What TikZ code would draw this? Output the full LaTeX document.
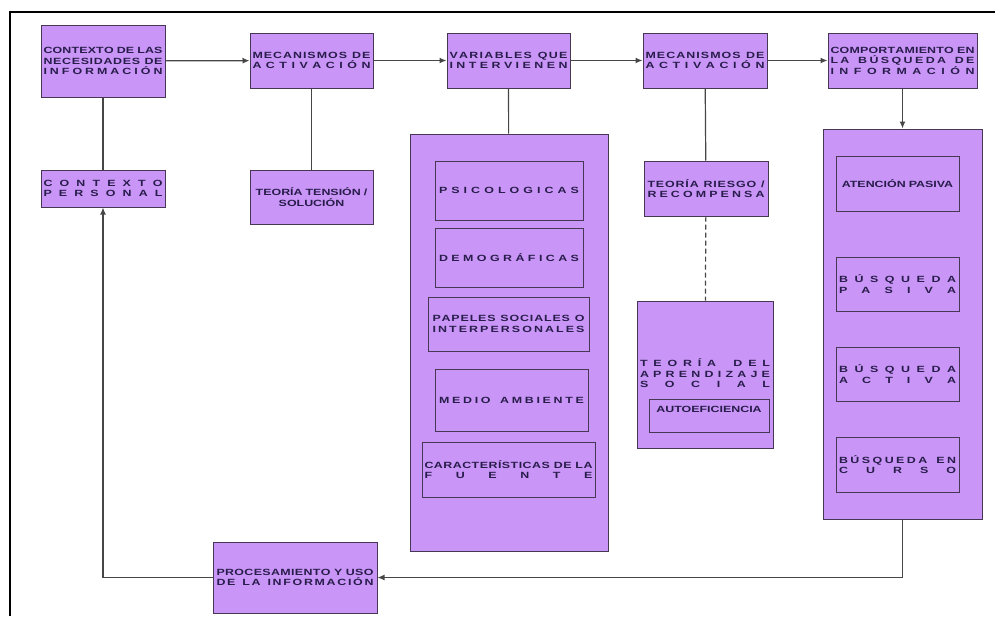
\documentclass[tikz,border=0pt]{standalone}
\usepackage{fontspec}
\newfontfamily\boxfont[FakeStretch=1.38]{Liberation Sans}
\usepackage{tikz}
\usetikzlibrary{positioning}
\usetikzlibrary{calc,arrows,arrows.meta}
\definecolor{boxfill}{RGB}{201,150,247}
\definecolor{boxline}{RGB}{70,55,85}
\definecolor{boxtext}{RGB}{40,28,75}
\definecolor{linkgray}{RGB}{70,70,70}
% justified line, letters spread over the whole width
\makeatletter
\newcommand{\sline}[1]{\makebox[\linewidth][s]{\ls@line#1 \@nil}}
\def\ls@line#1 #2\@nil{\ls@word#1\@nil\ifx\relax#2\relax\else\hskip 0.3em plus 2.5fil\relax\ls@line#2\@nil\fi}
\def\ls@word#1#2\@nil{#1\ifx\relax#2\relax\else\hskip 0pt plus 1fil\relax\ls@word#2\@nil\fi}
\makeatother

\begin{document}
\begin{tikzpicture}
	[   x=1pt,y=-1pt,
	    pbox/.style={draw=boxline,fill=boxfill,line width=1pt,inner xsep=2.5pt,inner ysep=0pt,
	        align=center,text=boxtext,font=\boxfont\bfseries\fontsize{9}{10.5}\selectfont},
	]
	\tikzset{link arrow/.style={draw=linkgray,line width=1.2pt,-{Latex[length=7pt,width=6pt]}}}
	\tikzset{link line/.style={draw=linkgray,line width=1.2pt}}
	\useasboundingbox (0,0) rectangle (995,616);
	\draw[line width=2.6pt] (10,616) -- (10,12) -- (995,12);
	
	% top row
	\node[pbox,minimum width=124pt,minimum height=72pt,text width=119pt] (need) at (103,61)
	{\sline{CONTEXTO DE LAS}\\\sline{NECESIDADES DE}\\\sline{INFORMACIÓN}};
	\node[pbox,minimum width=123pt,minimum height=55pt,text width=118pt] (mec-1) at (311.5,60.5)
	{\sline{MECANISMOS DE}\\\sline{ACTIVACIÓN}};
	\node[pbox,minimum width=123pt,minimum height=55pt,text width=118pt] (var) at (508.5,60.5)
	{\sline{VARIABLES QUE}\\\sline{INTERVIENEN}};
	\node[pbox,minimum width=124pt,minimum height=55pt,text width=119pt] (mec-2) at (705,60.5)
	{\sline{MECANISMOS DE}\\\sline{ACTIVACIÓN}};
	\node[pbox,minimum width=149pt,minimum height=55pt,text width=144pt] (comp) at (902.5,60.5)
	{\sline{COMPORTAMIENTO EN}\\\sline{LA BÚSQUEDA DE}\\\sline{INFORMACIÓN}};
	
	% second level
	\node[pbox,minimum width=124pt,minimum height=37pt,text width=119pt] (pers) at (103,188.5)
	{\sline{CONTEXTO}\\\sline{PERSONAL}};
	\node[pbox,minimum width=123pt,minimum height=54pt,text width=118pt] (tens) at (311.5,197)
	{TEORÍA TENSIÓN /\\SOLUCIÓN};
	
	% variables
	\node[pbox,minimum width=198pt,minimum height=417pt] (var-c) at (509,342.5) {};
	\node[pbox,minimum width=148pt,minimum height=59pt,text width=140pt] (psi) at (509,190.5)
	{\sline{PSICOLOGICAS}};
	\node[pbox,minimum width=148pt,minimum height=59pt,text width=140pt] (dem) at (509,257.5)
	{\sline{DEMOGRÁFICAS}};
	\node[pbox,minimum width=161pt,minimum height=54pt,text width=152pt] (pap) at (508.5,324)
	{\sline{PAPELES SOCIALES O}\\\sline{INTERPERSONALES}};
	\node[pbox,minimum width=153pt,minimum height=62pt,text width=145pt] (med) at (511.5,400)
	{\sline{MEDIO AMBIENTE}};
	\node[pbox,minimum width=173pt,minimum height=55pt,text width=168pt] (car) at (508.5,469.5)
	{\sline{CARACTERÍSTICAS DE LA}\\\sline{FUENTE}};
	
	% riesgo / aprendizaje
	\node[pbox,minimum width=124pt,minimum height=55pt,text width=117pt] (ries) at (706,188.5)
	{\sline{TEORÍA RIESGO /}\\\sline{RECOMPENSA}};
	\node[pbox,minimum width=136pt,minimum height=147pt] (apr-c) at (705,374.5) {};
	\node[align=center,inner sep=0pt,text width=130pt,text=boxtext,
	      font=\boxfont\bfseries\fontsize{9}{10.5}\selectfont] (apr) at (705,373.5)
	{\sline{TEORÍA DEL}\\\sline{APRENDIZAJE}\\\sline{SOCIAL}};
	\node[pbox,minimum width=120pt,minimum height=33pt,text width=114pt,
	      text height=13.2pt,text depth=19.8pt] (auto) at (709,415.5) {AUTOEFICIENCIA};
	
	% busqueda
	\node[pbox,minimum width=159pt,minimum height=390pt] (comp-c) at (902.5,324) {};
	\node[pbox,minimum width=123pt,minimum height=55pt,text width=118pt] (b-1) at (897.5,183.5)
	{ATENCIÓN PASIVA};
	\node[pbox,minimum width=123pt,minimum height=54pt,text width=117pt] (b-2) at (897.5,284)
	{\sline{BÚSQUEDA}\\\sline{PASIVA}};
	\node[pbox,minimum width=123pt,minimum height=54pt,text width=117pt] (b-3) at (897.5,374)
	{\sline{BÚSQUEDA}\\\sline{ACTIVA}};
	\node[pbox,minimum width=123pt,minimum height=55pt,text width=117pt] (b-4) at (897.5,464.5)
	{\sline{BÚSQUEDA EN}\\\sline{CURSO}};
	
	\node[pbox,minimum width=164pt,minimum height=71pt,text width=157pt] (proc) at (295,577.5)
	{\sline{PROCESAMIENTO Y USO}\\\sline{DE LA INFORMACIÓN}};
	
	% connectors
	\path[link arrow] (need) -- (mec-1);
	\path[link arrow] (mec-1) -- (var);
	\path[link arrow] (var) -- (mec-2);
	\path[link arrow] (mec-2) -- (comp);
	\path[link arrow] (comp) -- (comp-c);
	\path[link line] (need) -- (pers);
	\path[link line] (mec-1) -- (tens);
	\path[link line] (var) -- (var-c);
	\path[link line] (mec-2) -- (ries);
	\path[link line,dash pattern=on 5pt off 3pt] (ries) -- (apr-c);
	\path[link arrow] (comp-c.south) |- (proc.east);
	\path[link arrow] (proc.west) -| (pers.south);
\end{tikzpicture}
\end{document}
